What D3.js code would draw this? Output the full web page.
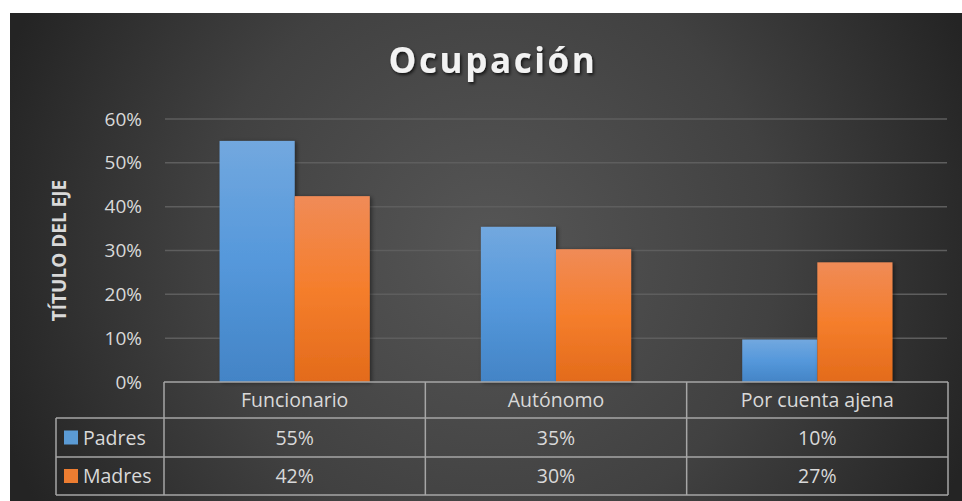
<!DOCTYPE html>
<html>
<head>
<meta charset="utf-8">
<script src="https://cdn.jsdelivr.net/npm/d3@7"></script>
<style>
  html, body { margin: 0; padding: 0; background: #fff; }
  svg { display: block; font-family: "Open Sans", sans-serif; }
</style>
</head>
<body>
<script>
const categories = ["Funcionario", "Autónomo", "Por cuenta ajena"];
const seriesNames = ["Padres", "Madres"];
const padres = [0.55, 0.354, 0.097];
const madres = [0.424, 0.303, 0.273];
const yTicks = [0, 0.1, 0.2, 0.3, 0.4, 0.5, 0.6];

const W = 962, H = 501;
const plot = { left: 164, right: 948, top: 119, bottom: 382 };
const rowH = [36, 39, 38];

const svg = d3.select("body").append("svg")
  .attr("width", W)
  .attr("height", H);

const defs = svg.append("defs");

const bg = defs.append("radialGradient")
  .attr("id", "bg")
  .attr("gradientUnits", "userSpaceOnUse")
  .attr("cx", 490).attr("cy", 250).attr("r", 520);
bg.append("stop").attr("offset", "0").attr("stop-color", "#565656");
bg.append("stop").attr("offset", "0.55").attr("stop-color", "#414141");
bg.append("stop").attr("offset", "1").attr("stop-color", "#242424");

const gradBlue = defs.append("linearGradient").attr("id", "gBlue")
  .attr("x1", 0).attr("y1", 0).attr("x2", 0).attr("y2", 1);
gradBlue.append("stop").attr("offset", "0").attr("stop-color", "#72a8df");
gradBlue.append("stop").attr("offset", "0.5").attr("stop-color", "#5598db");
gradBlue.append("stop").attr("offset", "1").attr("stop-color", "#4384c6");

const gradOrange = defs.append("linearGradient").attr("id", "gOrange")
  .attr("x1", 0).attr("y1", 0).attr("x2", 0).attr("y2", 1);
gradOrange.append("stop").attr("offset", "0").attr("stop-color", "#f08b57");
gradOrange.append("stop").attr("offset", "0.5").attr("stop-color", "#f57e2c");
gradOrange.append("stop").attr("offset", "1").attr("stop-color", "#e36b1b");

const shadow = defs.append("filter").attr("id", "shadow")
  .attr("x", "-20%").attr("y", "-20%").attr("width", "140%").attr("height", "140%");
shadow.append("feDropShadow")
  .attr("dx", 2).attr("dy", 1).attr("stdDeviation", 2)
  .attr("flood-color", "#000").attr("flood-opacity", 0.45);

const tshadow = defs.append("filter").attr("id", "tshadow")
  .attr("x", "-10%").attr("y", "-20%").attr("width", "120%").attr("height", "150%");
tshadow.append("feDropShadow")
  .attr("dx", 1.5).attr("dy", 2).attr("stdDeviation", 1.5)
  .attr("flood-color", "#000").attr("flood-opacity", 0.7);

// card background
svg.append("rect")
  .attr("x", 10).attr("y", 13)
  .attr("width", W - 10).attr("height", H - 13)
  .attr("fill", "url(#bg)");

// title
svg.append("text")
  .attr("x", 493)
  .attr("y", 73)
  .attr("text-anchor", "middle")
  .attr("fill", "#f2f2f2")
  .attr("filter", "url(#tshadow)")
  .style("font-size", "35px")
  .style("font-weight", "bold")
  .style("letter-spacing", "2.6px")
  .text("Ocupación");

const y = d3.scaleLinear()
  .domain([0, 0.6])
  .range([plot.bottom, plot.top]);

const x0 = d3.scaleBand()
  .domain(categories)
  .range([plot.left, plot.right]);

const x1 = d3.scaleBand()
  .domain(seriesNames)
  .range([0, x0.bandwidth()])
  .paddingOuter(0.74);

// gridlines
svg.append("g")
  .selectAll("line")
  .data(yTicks.filter(d => d > 0))
  .join("line")
  .attr("x1", plot.left + 1)
  .attr("x2", plot.right - 1)
  .attr("y1", d => y(d))
  .attr("y2", d => y(d))
  .attr("stroke", "#5e5e5e")
  .attr("stroke-width", 1.5);

// y axis labels
const yAxis = svg.append("g")
  .attr("transform", `translate(${plot.left - 6},0)`)
  .call(d3.axisLeft(y).tickValues(yTicks).tickFormat(d3.format(".0%")).tickSize(0).tickPadding(16));
yAxis.select(".domain").remove();
yAxis.selectAll("text")
  .attr("fill", "#d9d9d9")
  .style("font-size", "19px")
  .style("font-family", "'Open Sans', sans-serif");

// y axis title
svg.append("text")
  .attr("transform", `translate(66,${(plot.top + plot.bottom) / 2}) rotate(-90)`)
  .attr("text-anchor", "middle")
  .attr("fill", "#d9d9d9")
  .style("font-size", "19px")
  .style("font-weight", "bold")
  .text("TÍTULO DEL EJE");

// bars
const rows = categories.map((c, i) => ({ cat: c, values: [padres[i], madres[i]] }));
const fills = ["url(#gBlue)", "url(#gOrange)"];
const keyColors = ["#5b9bd5", "#ed7d31"];

const groups = svg.append("g")
  .selectAll("g")
  .data(rows)
  .join("g")
  .attr("transform", d => `translate(${x0(d.cat)},0)`);

groups.selectAll("rect")
  .data(d => d.values.map((v, i) => ({ name: seriesNames[i], value: v, i })))
  .join("rect")
  .attr("x", d => x1(d.name))
  .attr("y", d => y(d.value))
  .attr("width", x1.bandwidth())
  .attr("height", d => y(0) - y(d.value))
  .attr("fill", d => fills[d.i])
  .attr("filter", "url(#shadow)");

// data table
const tableLeft = 56;
const rowTop = [plot.bottom, plot.bottom + rowH[0], plot.bottom + rowH[0] + rowH[1]];
const tableBottom = rowTop[2] + rowH[2];
const lineColor = "#a6a6a6";
const table = svg.append("g")
  .attr("fill", "none")
  .attr("stroke", lineColor)
  .attr("stroke-width", 1.5);

// horizontal lines
table.append("line").attr("x1", plot.left).attr("x2", plot.right).attr("y1", rowTop[0]).attr("y2", rowTop[0]);
[rowTop[1], rowTop[2], tableBottom].forEach(yy => {
  table.append("line").attr("x1", tableLeft).attr("x2", plot.right).attr("y1", yy).attr("y2", yy);
});
// vertical lines
table.append("line").attr("x1", tableLeft).attr("x2", tableLeft).attr("y1", rowTop[1]).attr("y2", tableBottom);
[...categories.map(c => x0(c)), plot.right].forEach(xx => {
  table.append("line").attr("x1", xx).attr("x2", xx).attr("y1", rowTop[0]).attr("y2", tableBottom);
});

const cellText = svg.append("g")
  .attr("fill", "#d9d9d9")
  .style("font-size", "19.5px")
  .attr("text-anchor", "middle");

cellText.selectAll(".cat")
  .data(categories)
  .join("text")
  .attr("class", "cat")
  .attr("x", d => x0(d) + x0.bandwidth() / 2)
  .attr("y", rowTop[0] + rowH[0] / 2)
  .attr("dy", "0.36em")
  .text(d => d);

[padres, madres].forEach((vals, si) => {
  cellText.selectAll(".v" + si)
    .data(vals)
    .join("text")
    .attr("class", "v" + si)
    .attr("x", (d, i) => x0(categories[i]) + x0.bandwidth() / 2)
    .attr("y", rowTop[si + 1] + rowH[si + 1] / 2)
    .attr("dy", "0.36em")
    .text(d => Math.round(d * 100) + "%");
});

// legend keys inside table
const legend = svg.append("g")
  .selectAll("g")
  .data(seriesNames)
  .join("g")
  .attr("transform", (d, i) => `translate(${tableLeft + 8},${rowTop[i + 1] + rowH[i + 1] / 2})`);

legend.append("rect")
  .attr("x", 0).attr("y", -7)
  .attr("width", 14).attr("height", 14)
  .attr("fill", (d, i) => keyColors[i]);

legend.append("text")
  .attr("x", 19)
  .attr("dy", "0.36em")
  .attr("fill", "#d9d9d9")
  .style("font-size", "19.5px")
  .text(d => d);
</script>
</body>
</html>
